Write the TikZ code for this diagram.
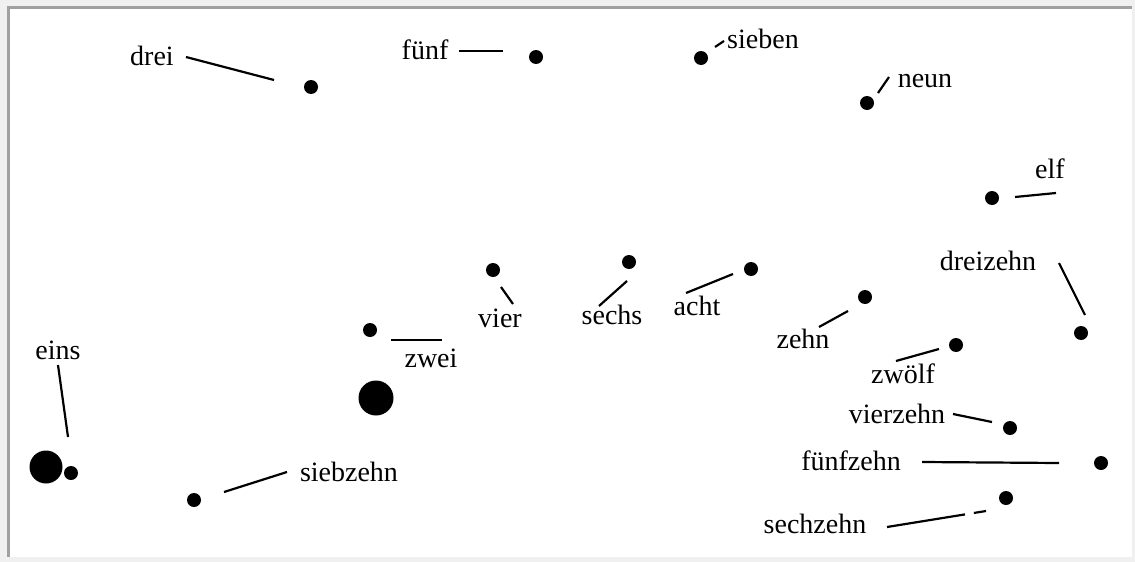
\documentclass[tikz,border=0pt]{standalone}
\usepackage{fontspec}
\setmainfont{Liberation Serif}
\definecolor{aussen}{HTML}{F0F0F0}
\definecolor{rahmen}{HTML}{A0A0A0}
\tikzset{
  punkt/.style={circle, fill=black, inner sep=0pt, minimum size=14pt},
  wort/.style={anchor=base, inner sep=0pt, font=\fontsize{28}{30}\selectfont},
  strich/.style={line width=2.2pt}
}
\begin{document}
\begin{tikzpicture}[x=1pt, y=-1pt]
    \useasboundingbox (0,0) rectangle (1135,562);
    \fill [aussen] (0,0) rectangle (1135,562);
    \fill [white] (7,6) rectangle (1132,557);
    \draw [rahmen, line width=2.6pt] (8.5,557) -- (8.5,7.5) -- (1132,7.5);
    % Punkte
    \node [punkt] (p-drei) at (311,87) {};
    \node [punkt] (p-fuenf) at (536,57) {};
    \node [punkt] (p-sieben) at (701,58) {};
    \node [punkt] (p-neun) at (867,103) {};
    \node [punkt] (p-elf) at (992,198) {};
    \node [punkt] (p-dreizehn) at (1081,333) {};
    \node [punkt] (p-vier) at (493,270) {};
    \node [punkt] (p-sechs) at (629,262) {};
    \node [punkt] (p-acht) at (751,269) {};
    \node [punkt] (p-zehn) at (865,297) {};
    \node [punkt] (p-zwoelf) at (956,345) {};
    \node [punkt] (p-vierzehn) at (1010,428) {};
    \node [punkt] (p-fuenfzehn) at (1101,463) {};
    \node [punkt] (p-sechzehn) at (1006,498) {};
    \node [punkt] (p-siebzehn) at (194,500) {};
    \node [punkt] (p-zwei) at (370,330) {};
    \node [punkt, minimum size=35pt] (p-gross) at (376,398) {};
    \node [punkt, minimum size=33pt] (p-eins) at (46,467) {};
    \node [punkt, minimum size=14pt] (p-eins-b) at (71,473) {};
    % Beschriftungen
    \node [wort] (drei) at (152,65) {drei};
    \node [wort] (fuenf) at (425,59) {fünf};
    \node [wort] (sieben) at (763,48) {sieben};
    \node [wort] (neun) at (925,87) {neun};
    \node [wort] (elf) at (1050,178) {elf};
    \node [wort] (dreizehn) at (988,270) {dreizehn};
    \node [wort] (vier) at (500,327) {vier};
    \node [wort] (sechs) at (612,324) {sechs};
    \node [wort] (acht) at (697,315) {acht};
    \node [wort] (zehn) at (803,348) {zehn};
    \node [wort] (zwoelf) at (903,383) {zwölf};
    \node [wort] (vierzehn) at (897,423) {vierzehn};
    \node [wort] (fuenfzehn) at (851,470) {fünfzehn};
    \node [wort] (sechzehn) at (815,533) {sechzehn};
    \node [wort] (siebzehn) at (349,481) {siebzehn};
    \node [wort] (zwei) at (431,367) {zwei};
    \node [wort] (eins) at (58,359) {eins};
    % Striche
    \coordinate (drei-a) at (186,57);      \coordinate (drei-b) at (274,80);
    \coordinate (fuenf-a) at (459,51);     \coordinate (fuenf-b) at (503,51);
    \coordinate (sieben-a) at (715,47);    \coordinate (sieben-b) at (724,41);
    \coordinate (neun-a) at (878,93);      \coordinate (neun-b) at (889,77);
    \coordinate (elf-a) at (1015,197);     \coordinate (elf-b) at (1056,193);
    \coordinate (dreizehn-a) at (1059,263); \coordinate (dreizehn-b) at (1085,315);
    \coordinate (vier-a) at (501,287);     \coordinate (vier-b) at (513,304);
    \coordinate (sechs-a) at (599,306);    \coordinate (sechs-b) at (627,281);
    \coordinate (acht-a) at (686,293);     \coordinate (acht-b) at (733,274);
    \coordinate (zehn-a) at (819,327);     \coordinate (zehn-b) at (848,311);
    \coordinate (zwoelf-a) at (896,361);   \coordinate (zwoelf-b) at (939,349);
    \coordinate (vierzehn-a) at (953,414); \coordinate (vierzehn-b) at (992,422);
    \coordinate (fuenfzehn-a) at (922,462); \coordinate (fuenfzehn-b) at (1059,463);
    \coordinate (sechzehn-a) at (887,527); \coordinate (sechzehn-b) at (986,511);
    \coordinate (siebzehn-a) at (224,492); \coordinate (siebzehn-b) at (287,472);
    \coordinate (zwei-a) at (391,340);     \coordinate (zwei-b) at (442,340);
    \coordinate (eins-a) at (58,365);      \coordinate (eins-b) at (68,437);
    \foreach \n in {drei,fuenf,sieben,neun,elf,dreizehn,vier,sechs,acht,zehn,zwoelf,vierzehn,fuenfzehn,siebzehn,zwei,eins}
      \draw [strich] (\n-a) -- (\n-b);
    \draw [strich, dash pattern=on 79pt off 9pt on 14pt] (sechzehn-a) -- (sechzehn-b);
\end{tikzpicture}
\end{document}
